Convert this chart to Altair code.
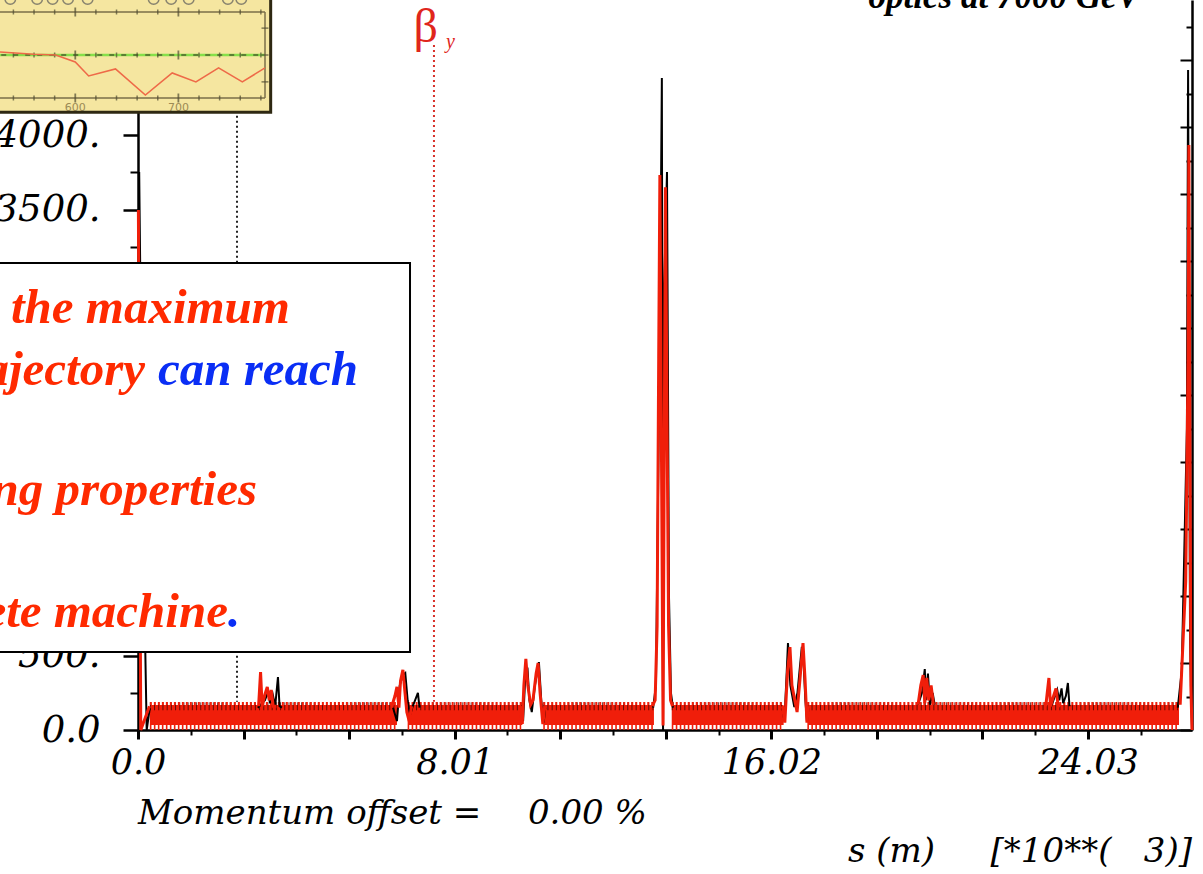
import altair as alt
import pandas as pd

# ---------------- data ----------------
# beta functions in insertion regions: s in km, beta in m
black_segments = {
    "ip1a": ([0.03, 0.12, 0.22, 0.30], [3753, 1500, 0, 150]),
    "ir2": ([3.03, 3.21, 3.29, 3.34, 3.39, 3.47, 3.54, 3.58, 3.64],
            [150, 200, 256, 180, 262, 160, 356, 160, 150]),
    "ir3": ([6.45, 6.55, 6.62, 6.70, 6.76, 6.82, 6.88, 6.95, 7.08, 7.12],
            [150, 60, 300, 370, 383, 200, 100, 160, 249, 150]),
    "ir4": ([9.68, 9.74, 9.80, 9.85, 9.90, 9.96, 10.04, 10.14, 10.20, 10.26, 10.30],
            [150, 60, 380, 420, 200, 121, 300, 457, 200, 50, 150]),
    "ir5": ([13.03, 13.10, 13.15, 13.21, 13.25, 13.28, 13.31, 13.38, 13.43, 13.48, 13.53],
            [150, 300, 1500, 3000, 4385, 0, 3000, 3753, 900, 250, 150]),
    "ir6": ([16.30, 16.35, 16.41, 16.44, 16.50, 16.60, 16.68, 16.79, 16.84, 16.88, 16.92, 16.96],
            [150, 60, 400, 585, 300, 155, 250, 560, 420, 200, 60, 150]),
    "ir7": ([19.73, 19.83, 19.90, 19.93, 19.98, 20.03, 20.10, 20.15],
            [170, 250, 410, 200, 380, 170, 250, 170]),
    "ir8": ([23.10, 23.25, 23.30, 23.36, 23.40, 23.47, 23.52, 23.56],
            [160, 270, 200, 280, 180, 230, 316, 160]),
    "ip1b": ([26.30, 26.40, 26.53, 26.56, 26.61, 26.659],
             [150, 400, 2024, 4439, 600, 0]),
}
red_segments = {
    "ip1a": ([0.01, 0.07, 0.29], [3497, 0, 160]),
    "ir2": ([3.05, 3.10, 3.14, 3.21, 3.27, 3.32, 3.37, 3.42, 3.50],
            [160, 390, 160, 240, 290, 200, 269, 160, 160]),
    "ir3": ([6.42, 6.50, 6.55, 6.60, 6.64, 6.70, 6.75, 6.80, 6.86, 6.92],
            [160, 230, 290, 150, 330, 404, 260, 120, 60, 160]),
    "ir4": ([9.66, 9.72, 9.76, 9.81, 9.86, 9.93, 9.99, 10.07, 10.12, 10.17, 10.24, 10.29],
            [160, 40, 300, 478, 300, 170, 200, 380, 450, 250, 40, 160]),
    "ir5": ([13.01, 13.08, 13.13, 13.17, 13.20, 13.28, 13.34, 13.37, 13.42, 13.47, 13.52],
            [160, 200, 700, 2500, 3733, 30, 3650, 2500, 700, 200, 160]),
    "ir6": ([16.30, 16.36, 16.43, 16.49, 16.54, 16.67, 16.73, 16.82, 16.87, 16.92, 16.96],
            [160, 50, 400, 558, 300, 121, 300, 585, 350, 50, 160]),
    "ir7": ([19.73, 19.80, 19.86, 19.90, 19.95, 20.00, 20.06, 20.12],
            [170, 300, 370, 180, 350, 200, 300, 170]),
    "ir8": ([22.96, 23.04, 23.08, 23.16, 23.22, 23.27, 23.33],
            [160, 350, 160, 230, 280, 170, 160]),
    "ip1b": ([26.36, 26.50, 26.56, 26.58, 26.63, 26.659],
             [170, 1000, 2500, 3935, 300, 0]),
}
# arcs: dense FODO oscillation drawn as a band between beta_min and beta_max
arc_start = [0.30, 6.82, 10.25, 13.50, 16.93]
arc_end = [6.55, 9.72, 13.05, 16.33, 26.33]
arc_beta_min = 34
arc_beta_max = 168

# element markers (dotted verticals)
marker_s = [2.504, 7.486]
marker_top = [4400, 4607]
marker_bottom = [190, 190]

# axis ticks
x_major = [0, 2.67, 5.34, 8.01, 10.68, 13.35, 16.02, 18.69, 21.36, 24.03]
x_minor = [1.335, 4.005, 6.675, 9.345, 12.015, 14.685, 17.355, 20.025, 22.695, 25.365]
y_major = [0, 500, 1000, 1500, 2000, 2500, 3000, 3500, 4000, 4500]
y_minor = [250, 750, 1250, 1750, 2250, 2750, 3250, 3750, 4250, 4750]
r_major = [0, 1, 2, 3, 4, 5, 6, 7, 8, 9, 10]
r_minor = [0.5, 1.5, 2.5, 3.5, 4.5, 5.5, 6.5, 7.5, 8.5, 9.5, 10.5]

# inset (zoom of another plot)
inset_x = [527, 560, 581, 600, 613, 639, 668, 694, 717, 739, 762, 784]
inset_y = [0.11, 0.03, 0.0, -0.26, -0.78, -0.52, -1.49, -0.67, -1.0, -0.48, -1.0, -0.48]
inset_ticks = [540, 560, 580, 620, 640, 660, 680, 720, 740, 760, 780]
inset_major = [600, 700]
inset_circles = [537, 563, 578, 593, 612, 676, 693, 710, 748, 761]

RED = "#F01E0A"
TXT_RED = "#FF2A00"
BLUE = "#0A2EF5"

# ---------------- frames ----------------
def seg_frame(segs):
    rows = []
    for name, (ss, bb) in segs.items():
        for s, b in zip(ss, bb):
            rows.append({"s": s, "b": b, "seg": name})
    return pd.DataFrame(rows)

black_df = seg_frame(black_segments)
red_df = seg_frame(red_segments)
arc_df = pd.DataFrame({"s": arc_start, "s2": arc_end,
                       "b": [arc_beta_min] * len(arc_start),
                       "b2": [arc_beta_max] * len(arc_start)})
mark_df = pd.DataFrame({"s": marker_s, "b": marker_top, "b2": marker_bottom,
                        "c": ["black", "red"]})

xs = alt.Scale(domain=[0, 26.659], nice=False, zero=False)
ys = alt.Scale(domain=[0, 4910], nice=False, zero=False)

x_axis = alt.Axis(orient="bottom", values=x_major, title=None, grid=False,
                  labelExpr="indexof([0, 8.01, 16.02, 24.03], datum.value) >= 0 ? (datum.value == 0 ? '0.0' : format(datum.value, '.2f')) : ''",
                  tickSize=9, tickWidth=3, tickColor="black",
                  domainColor="black", domainWidth=2.5,
                  labelFont="DejaVu Serif", labelFontStyle="italic", labelFontSize=35,
                  labelColor="black", labelPadding=6, labelFlush=False, labelOverlap=False)
# labels 1000-3000 sit under the text box and 4500 under the inset: left empty
y_axis = alt.Axis(orient="left", values=y_major, title=None, grid=False,
                  labelExpr="datum.value == 0 ? '0.0' : (indexof([500, 3500, 4000], datum.value) >= 0 ? datum.value + '.' : '')",
                  tickSize=15, tickWidth=2.5, tickColor="black",
                  domainColor="black", domainWidth=2.5,
                  labelFont="DejaVu Serif", labelFontStyle="italic", labelFontSize=37,
                  labelColor="black", labelPadding=23, labelFlush=False, labelOverlap=False)

X = alt.X("s:Q", scale=xs, axis=x_axis)
Y = alt.Y("b:Q", scale=ys, axis=y_axis)

band = alt.Chart(arc_df).mark_rect(color=RED).encode(
    x=X, x2="s2:Q", y=Y, y2="b2:Q")

top_dark = pd.DataFrame({"s": arc_start, "s2": arc_end, "b": [160] * len(arc_start)})
band_top = alt.Chart(top_dark).mark_rule(color="#3a0500", strokeWidth=8,
                                         strokeDash=[1, 3.2], opacity=0.75).encode(
    x=X, x2="s2:Q", y=Y)
top_red = pd.DataFrame({"s": arc_start, "s2": arc_end, "b": [178] * len(arc_start)})
band_top2 = alt.Chart(top_red).mark_rule(color=RED, strokeWidth=3,
                                         strokeDash=[2, 2]).encode(x=X, x2="s2:Q", y=Y)
bot_red = pd.DataFrame({"s": arc_start, "s2": arc_end, "b": [16] * len(arc_start)})
band_bot = alt.Chart(bot_red).mark_rule(color=RED, strokeWidth=5,
                                        strokeDash=[1.6, 2.4]).encode(x=X, x2="s2:Q", y=Y)

black_line = alt.Chart(black_df).mark_line(color="black", strokeWidth=2).encode(
    x=X, y=Y, detail="seg:N", order="s:Q")
red_line = alt.Chart(red_df).mark_line(color=RED, strokeWidth=3).encode(
    x=X, y=Y, detail="seg:N", order="s:Q")

markers = alt.Chart(mark_df).mark_rule(strokeWidth=2, strokeDash=[2, 3]).encode(
    x=X, y=Y, y2="b2:Q",
    color=alt.Color("c:N", scale=alt.Scale(domain=["black", "red"],
                                           range=["#222222", "#D8302A"]), legend=None))

beta_lbl = alt.Chart(pd.DataFrame({"s": [7.28], "b": [4627], "t": ["\u03b2"]})).mark_text(
    font="Liberation Serif", fontSize=48, color="#E0261C", align="center",
    baseline="alphabetic").encode(x=X, y=Y, text="t:N")
beta_sub = alt.Chart(pd.DataFrame({"s": [7.79], "b": [4590], "t": ["y"]})).mark_text(
    font="Liberation Serif", fontSize=20, fontStyle="italic", color="#E0261C",
    align="left", baseline="alphabetic").encode(x=X, y=Y, text="t:N")

title = alt.Chart(pd.DataFrame({"s": [25.34], "b": [4856], "t": ["optics at 7000 GeV"]})).mark_text(
    font="Liberation Serif", fontSize=35, fontStyle="italic", fontWeight="bold",
    color="black", align="right", baseline="alphabetic").encode(x=X, y=Y, text="t:N")

bottom_left = alt.Chart(pd.DataFrame({"s": [0.0, 9.863], "b": [-632, -632],
                                      "t": ["Momentum offset =", "0.00 %"]})).mark_text(
    font="DejaVu Serif", fontSize=34, fontStyle="italic", color="black",
    align="left", baseline="alphabetic").encode(x=X, y=Y, text="t:N")
s_lbl = alt.Chart(pd.DataFrame({"s": [17.957], "b": [-888], "t": ["s (m)"]})).mark_text(
    font="DejaVu Serif", fontSize=34, fontStyle="italic", color="black",
    align="left", baseline="alphabetic").encode(x=X, y=Y, text="t:N")
s_unit = alt.Chart(pd.DataFrame({"s": [26.659], "b": [-888],
                                 "t": ["[*10**(\u00a0\u00a0\u00a03)]"]})).mark_text(
    font="DejaVu Serif", fontSize=34, fontStyle="italic", color="black",
    align="right", baseline="alphabetic").encode(x=X, y=Y, text="t:N")

# text box
box = alt.Chart(pd.DataFrame({"s": [-4.0], "s2": [6.88], "b": [525], "b2": [3141]})).mark_rect(
    fill="white", stroke="black", strokeWidth=2).encode(x=X, x2="s2:Q", y=Y, y2="b2:Q")

red_right = alt.Chart(pd.DataFrame({
    "s": [3.844, 0.177, 3.01, 2.276],
    "b": [2737, 2320, 1513, 693],
    "t": ["the maximum",
          "trajectory",
          "focusing properties",
          "complete machine"]})).mark_text(
    font="Liberation Serif", fontSize=49, fontStyle="italic", fontWeight="bold",
    color=TXT_RED, align="right", baseline="alphabetic").encode(x=X, y=Y, text="t:N")
blue_left = alt.Chart(pd.DataFrame({
    "s": [0.506, 2.276], "b": [2320, 693], "t": ["can reach", "."]})).mark_text(
    font="Liberation Serif", fontSize=49, fontStyle="italic", fontWeight="bold",
    color=BLUE, align="left", baseline="alphabetic").encode(x=X, y=Y, text="t:N")

main = alt.layer(band, band_top, band_top2, band_bot, black_line, red_line, markers,
                 beta_lbl, beta_sub, title, bottom_left, s_lbl, s_unit,
                 box, red_right, blue_left)

# minor ticks (left and bottom)
helper = pd.DataFrame({"s": [0.0], "b": [0.0], "r": [0.0]})
minor = alt.Chart(helper).mark_point(opacity=0).encode(
    x=alt.X("s:Q", scale=xs, axis=alt.Axis(orient="bottom", values=x_minor, labels=False,
                                          domain=False, grid=False, title=None,
                                          tickSize=5, tickWidth=2, tickColor="black")),
    y=alt.Y("b:Q", scale=ys, axis=alt.Axis(orient="left", values=y_minor, labels=False,
                                          domain=False, grid=False, title=None,
                                          tickSize=8, tickWidth=2, tickColor="black")))

rs = alt.Scale(domain=[0, 10.9], nice=False, zero=False)
right_major = alt.Chart(helper).mark_point(opacity=0).encode(
    y=alt.Y("r:Q", scale=rs, axis=alt.Axis(orient="left", offset=-1054, values=r_major,
                                          labels=False, grid=False, title=None,
                                          domainColor="black", domainWidth=2.5,
                                          tickSize=12, tickWidth=2, tickColor="black")))
right_minor = alt.Chart(helper).mark_point(opacity=0).encode(
    y=alt.Y("r:Q", scale=rs, axis=alt.Axis(orient="left", offset=-1054, values=r_minor,
                                          labels=False, grid=False, title=None, domain=False,
                                          tickSize=6, tickWidth=2, tickColor="black")))

# inset (its own scales; range is relative to the plot-area origin)
ixs = alt.Scale(domain=[527, 784], range=[-138, 127], nice=False, zero=False)
iys = alt.Scale(domain=[-1.6, 1.6], range=[98, 12], nice=False, zero=False)
IXX = alt.X("ix:Q", scale=ixs, axis=None)
IYY = alt.Y("iy:Q", scale=iys, axis=None)

inset_rect_df = pd.DataFrame({"ix": [470], "ix2": [789.5], "iy": [-2.13], "iy2": [2.5]})
inset_bg = alt.Chart(inset_rect_df).mark_rect(fill="#F5E6A0").encode(
    x=IXX, x2="ix2:Q", y=IYY, y2="iy2:Q")
inset_border = alt.Chart(inset_rect_df).mark_rect(fill="#F5E6A0", fillOpacity=0,
                                                  stroke="#2E2812", strokeWidth=3).encode(
    x=IXX, x2="ix2:Q", y=IYY, y2="iy2:Q")
zero_df = pd.DataFrame({"ix": [470], "ix2": [784], "iy": [0.0]})
inset_green = alt.Chart(zero_df).mark_rule(color="#86E04A", strokeWidth=2.5).encode(
    x=IXX, x2="ix2:Q", y=IYY)
inset_dash = alt.Chart(zero_df).mark_rule(color="#4F5F2E", strokeWidth=1.3,
                                          strokeDash=[5, 7]).encode(x=IXX, x2="ix2:Q", y=IYY)
frame_h = pd.DataFrame({"ix": [470, 470], "ix2": [784, 784], "iy": [1.6, -1.6]})
inset_frame_h = alt.Chart(frame_h).mark_rule(color="#7A6E48", strokeWidth=1.5).encode(
    x=IXX, x2="ix2:Q", y=IYY)
frame_v = pd.DataFrame({"ix": [784], "iy": [-1.6], "iy2": [1.6]})
inset_frame_v = alt.Chart(frame_v).mark_rule(color="#7A6E48", strokeWidth=1.5).encode(
    x=IXX, y=IYY, y2="iy2:Q")
tick_rows = [{"ix": t, "iy": yy} for t in inset_ticks for yy in (1.6, -1.6, 0.0)]
inset_tk = alt.Chart(pd.DataFrame(tick_rows)).mark_tick(
    orient="vertical", size=5, thickness=1.5, color="#4F4A30").encode(x=IXX, y=IYY)
maj_rows = [{"ix": t, "iy": yy} for t in inset_major for yy in (1.6, -1.6, 0.0)]
inset_tkm = alt.Chart(pd.DataFrame(maj_rows)).mark_tick(
    orient="vertical", size=9, thickness=1.8, color="#4F4A30").encode(x=IXX, y=IYY)
inset_rt = alt.Chart(pd.DataFrame({"ix": [784, 784, 784], "iy": [-1.0, 0.0, 1.0]})).mark_tick(
    orient="horizontal", size=7, thickness=1.5, color="#4F4A30").encode(x=IXX, y=IYY)
inset_curve = alt.Chart(pd.DataFrame({"ix": inset_x, "iy": inset_y})).mark_line(
    color="#EE6A48", strokeWidth=1.6).encode(x=IXX, y=IYY, order="ix:Q")
inset_lbl = alt.Chart(pd.DataFrame({"ix": inset_major, "iy": [-2.10, -2.10],
                                    "t": ["600", "700"]})).mark_text(
    font="DejaVu Sans", fontSize=11, color="#9C8B55", align="center",
    baseline="alphabetic").encode(x=IXX, y=IYY, text="t:N")
inset_circ = alt.Chart(pd.DataFrame({"ix": inset_circles,
                                     "iy": [2.08] * len(inset_circles)})).mark_point(
    shape="circle", size=110, filled=False, color="#5A5A5A", strokeWidth=1.5).encode(
    x=IXX, y=IYY)

inset = alt.layer(inset_bg, inset_green, inset_dash, inset_frame_h, inset_frame_v,
                  inset_tk, inset_tkm, inset_rt, inset_curve, inset_lbl, inset_circ,
                  inset_border)

chart = alt.layer(main, minor, right_major, right_minor, inset).resolve_scale(
    x="independent", y="independent"
).properties(
    width=1054, height=730,
    autosize=alt.AutoSizeParams(type="none"),
    padding={"left": 138, "top": 0, "right": 11, "bottom": 144},
    background="white",
).configure_view(strokeWidth=0)

chart.save("out.html", embed_options={"renderer": "svg", "actions": False})
